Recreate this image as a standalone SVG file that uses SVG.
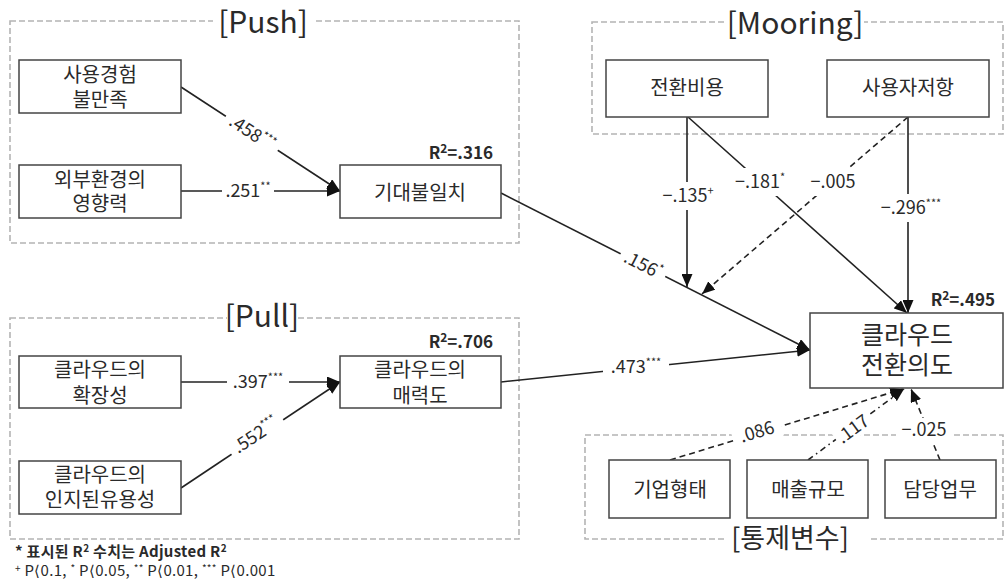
<svg xmlns="http://www.w3.org/2000/svg" width="1004" height="581" viewBox="0 0 1004 581">
<style>
text{font-family:'Noto Sans CJK KR','Noto Sans',sans-serif;fill:#2a2a2a}
.grp{fill:none;stroke:#b4b4b4;stroke-width:1.6;stroke-dasharray:6 3}
.gl{font-size:30px;text-anchor:middle}
.node rect{fill:#fff;stroke:#444;stroke-width:1.5}
.nt{font-size:20px;text-anchor:middle}
.big{font-size:25px;text-anchor:middle}
.r2{font-size:17px;font-weight:bold;text-anchor:end}
.c{stroke:#222;stroke-width:1.6;fill:none}
.d{stroke-dasharray:6 4}
.dd{stroke-dasharray:6 4 1.5 4}
.el{font-size:18px;text-anchor:middle}
.bg{fill:#fff}
.sup{font-size:11px}
.fn{font-size:15px;letter-spacing:0.3px}
</style>
<defs>
<marker id="ah" markerUnits="userSpaceOnUse" markerWidth="13" markerHeight="11" refX="13" refY="5.5" orient="auto">
<path d="M0,0 L13,5.5 L0,11 z" fill="#111"/>
</marker>
</defs>

<g id="group-push">
<rect class="grp" x="10" y="21" width="509" height="222"/>
<rect class="bg" x="213" y="6" width="100" height="30"/>
<text class="gl" x="263" y="33">[Push]</text>
</g>
<g id="group-pull">
<rect class="grp" x="10" y="318" width="509" height="221"/>
<rect class="bg" x="227" y="302" width="71" height="30"/>
<text class="gl" x="262" y="327">[Pull]</text>
</g>
<g id="group-mooring">
<rect class="grp" x="592" y="22" width="411" height="112"/>
<rect class="bg" x="726" y="6" width="138" height="32"/>
<text class="gl" x="795" y="34">[Mooring]</text>
</g>
<g id="group-control">
<rect class="grp" x="585" y="435" width="418" height="104"/>
<rect class="bg" x="724" y="522" width="146" height="32"/>
<text class="gl" x="790" y="548" style="font-size:27px">[통제변수]</text>
</g>

<g id="connectors">
<line class="c" x1="181" y1="87" x2="340" y2="191" marker-end="url(#ah)"/>
<line class="c" x1="181" y1="191" x2="340" y2="191" marker-end="url(#ah)"/>
<line class="c" x1="181" y1="382" x2="340" y2="382" marker-end="url(#ah)"/>
<line class="c" x1="181" y1="488" x2="340" y2="382" marker-end="url(#ah)"/>
<line class="c" x1="501" y1="193" x2="810" y2="350" marker-end="url(#ah)"/>
<line class="c" x1="501" y1="382" x2="810" y2="350" marker-end="url(#ah)"/>
<line class="c" x1="687" y1="117" x2="687" y2="287" marker-end="url(#ah)"/>
<line class="c" x1="688" y1="117" x2="907" y2="313" marker-end="url(#ah)"/>
<line class="c d" x1="908" y1="117" x2="702" y2="294" marker-end="url(#ah)"/>
<line class="c" x1="908" y1="117" x2="908" y2="313" marker-end="url(#ah)"/>
<line class="c d" x1="670" y1="460" x2="903" y2="389" marker-end="url(#ah)"/>
<line class="c dd" x1="808" y1="460" x2="904" y2="389" marker-end="url(#ah)"/>
<line class="c d" x1="940" y1="460" x2="911" y2="389" marker-end="url(#ah)"/>

<g transform="translate(252,133) rotate(33.2)"><rect class="bg" x="-31" y="-12" width="62" height="24"/><text class="el" x="0" y="6">.458<tspan class="sup" dy="-7">***</tspan></text></g>
<g transform="translate(248,191)"><rect class="bg" x="-26" y="-12" width="52" height="24"/><text class="el" x="0" y="6">.251<tspan class="sup" dy="-7">**</tspan></text></g>
<g transform="translate(258,382)"><rect class="bg" x="-31" y="-12" width="62" height="24"/><text class="el" x="0" y="6">.397<tspan class="sup" dy="-7">***</tspan></text></g>
<g transform="translate(256,435) rotate(-33.7)"><rect class="bg" x="-31" y="-12" width="62" height="24"/><text class="el" x="0" y="6">.552<tspan class="sup" dy="-7">***</tspan></text></g>
<g transform="translate(643,265) rotate(27.1)"><rect class="bg" x="-25" y="-12" width="50" height="24"/><text class="el" x="0" y="6">.156<tspan class="sup" dy="-7">*</tspan></text></g>
<g transform="translate(636,367)"><rect class="bg" x="-33" y="-12" width="66" height="24"/><text class="el" x="0" y="6">.473<tspan class="sup" dy="-7">***</tspan></text></g>
<g transform="translate(688,196)"><rect class="bg" x="-28" y="-14" width="56" height="28"/><text class="el" x="0" y="6">−.135<tspan class="sup" dy="-7">+</tspan></text></g>
<g transform="translate(760,182)"><rect class="bg" x="-28" y="-14" width="56" height="28"/><text class="el" x="0" y="6">−.181<tspan class="sup" dy="-7">*</tspan></text></g>
<g transform="translate(833,182)"><rect class="bg" x="-27" y="-14" width="54" height="28"/><text class="el" x="0" y="6">−.005</text></g>
<g transform="translate(911,208)"><rect class="bg" x="-34" y="-14" width="68" height="28"/><text class="el" x="0" y="6">−.296<tspan class="sup" dy="-7">***</tspan></text></g>
<g transform="translate(757,432) rotate(-16.7)"><rect class="bg" x="-25" y="-11" width="50" height="22"/><text class="el" x="0" y="6">.086</text></g>
<g transform="translate(853,429) rotate(-36.4)"><rect class="bg" x="-20" y="-10" width="40" height="20"/><text class="el" x="0" y="6">.117</text></g>
<g transform="translate(924,430)"><rect class="bg" x="-28" y="-12" width="56" height="24"/><text class="el" x="0" y="6">−.025</text></g>
</g>

<g id="n-dissatisfaction" class="node"><rect x="19" y="60" width="162" height="53"/><text class="nt" x="100" y="82">사용경험</text><text class="nt" x="100" y="107">불만족</text></g>
<g id="n-external" class="node"><rect x="19" y="165" width="162" height="53"/><text class="nt" x="100" y="187">외부환경의</text><text class="nt" x="100" y="211">영향력</text></g>
<g id="n-disconfirm" class="node"><rect x="340" y="165" width="161" height="53"/><text class="nt" x="420" y="200">기대불일치</text><text class="r2" x="493" y="159">R<tspan style="font-size:12px" dy="-6">2</tspan><tspan dy="6">=.316</tspan></text></g>
<g id="n-scalability" class="node"><rect x="19" y="356" width="162" height="52"/><text class="nt" x="100" y="377">클라우드의</text><text class="nt" x="100" y="403">확장성</text></g>
<g id="n-usefulness" class="node"><rect x="19" y="461" width="162" height="53"/><text class="nt" x="100" y="482">클라우드의</text><text class="nt" x="100" y="507">인지된유용성</text></g>
<g id="n-attract" class="node"><rect x="340" y="356" width="161" height="52"/><text class="nt" x="420" y="377">클라우드의</text><text class="nt" x="420" y="403">매력도</text><text class="r2" x="493" y="348">R<tspan style="font-size:12px" dy="-6">2</tspan><tspan dy="6">=.706</tspan></text></g>
<g id="n-switchcost" class="node"><rect x="606" y="60" width="162" height="57"/><text class="nt" x="687" y="95">전환비용</text></g>
<g id="n-resist" class="node"><rect x="827" y="60" width="162" height="57"/><text class="nt" x="908" y="95">사용자저항</text></g>
<g id="n-intent" class="node"><rect x="810" y="313" width="193" height="75"/><text class="big" x="907" y="344">클라우드</text><text class="big" x="907" y="374">전환의도</text><text class="r2" x="995" y="306">R<tspan style="font-size:12px" dy="-6">2</tspan><tspan dy="6">=.495</tspan></text></g>
<g id="n-firmtype" class="node"><rect x="609" y="460" width="121" height="58"/><text class="nt" x="670" y="497">기업형태</text></g>
<g id="n-sales" class="node"><rect x="747" y="460" width="121" height="58"/><text class="nt" x="808" y="497">매출규모</text></g>
<g id="n-duty" class="node"><rect x="885" y="460" width="111" height="58"/><text class="nt" x="940" y="497">담당업무</text></g>

<g id="footnote">
<text class="fn" x="15" y="557" style="font-weight:bold">* 표시된 R<tspan style="font-size:10px" dy="-5">2</tspan><tspan dy="5"> 수치는  Adjusted R</tspan><tspan style="font-size:10px" dy="-5">2</tspan></text>
<text class="fn" x="15" y="576"><tspan style="font-size:10px" dy="-4">+</tspan><tspan dy="4"> P⟨0.1, </tspan><tspan style="font-size:10px" dy="-4">*</tspan><tspan dy="4"> P⟨0.05, </tspan><tspan style="font-size:10px" dy="-4">**</tspan><tspan dy="4"> P⟨0.01, </tspan><tspan style="font-size:10px" dy="-4">***</tspan><tspan dy="4"> P⟨0.001</tspan></text>
</g>
</svg>
